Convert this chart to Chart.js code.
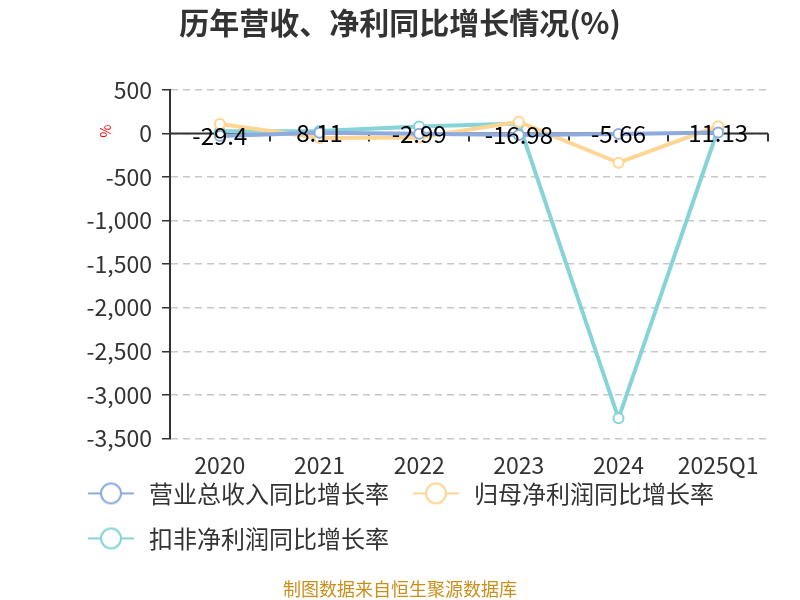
<!DOCTYPE html>
<html>
<head>
<meta charset="utf-8">
<script src="https://cdn.jsdelivr.net/npm/chart.js@4.4.1/dist/chart.umd.min.js"></script>
<style>
  html, body { margin: 0; padding: 0; background: #fff; }
  #wrap { width: 800px; height: 600px; }
</style>
</head>
<body>
<div id="wrap"><canvas id="growth_chart" width="800" height="600"></canvas></div>
<script>
// 数据
const categories = ['2020', '2021', '2022', '2023', '2024', '2025Q1'];
const revenueGrowth = [-29.4, 8.11, -2.99, -16.98, -5.66, 11.13];   // 营业总收入同比增长率
const netProfitGrowth = [110, -50, -45, 135, -335, 85];             // 归母净利润同比增长率
const deductedProfitGrowth = [25, 30, 80, 115, -3270, 55];          // 扣非净利润同比增长率
const seriesNames = ['营业总收入同比增长率', '归母净利润同比增长率', '扣非净利润同比增长率'];
const yTicks = { min: -3500, max: 500, step: 500 };

const colors = ['#8eabe0', '#fed593', '#86d4d8'];
const FONT = "'Noto Sans CJK SC', 'Noto Sans', sans-serif";
const TITLE = '历年营收、净利同比增长情况(%)';
const SOURCE = '制图数据来自恒生聚源数据库';

Chart.defaults.font.family = FONT;
Chart.defaults.color = '#333';

// 图例图标: 线 + 空心圆
function legendIcon(color) {
    const c = document.createElement('canvas');
    c.width = 46;
    c.height = 24;
    const g = c.getContext('2d');
    g.strokeStyle = color;
    g.lineWidth = 2;
    g.beginPath();
    g.moveTo(0, 12);
    g.lineTo(46, 12);
    g.stroke();
    g.beginPath();
    g.arc(23, 12, 10, 0, Math.PI * 2);
    g.fillStyle = '#fff';
    g.fill();
    g.stroke();
    return c;
}

// 零轴 + 刻度, 数值标签, 单位
const extras = {
    id: 'extras',
    afterLayout(chart) {
        // 标题和来源居中于整个画布, 图例上移
        chart.boxes.forEach(b => {
            if (b.options && (b.options.text === TITLE || b.options.text === SOURCE)) {
                b.left = 0;
                b.right = chart.width;
                b.width = chart.width;
            }
        });
        const lg = chart.legend;
        const d = 18;
        lg.top -= d;
        lg.bottom -= d;
    },
    beforeDatasetsDraw(chart) {
        const { ctx, chartArea, scales } = chart;
        const y0 = scales.y.getPixelForValue(0);
        const n = categories.length;
        const w = (chartArea.right - chartArea.left) / n;
        ctx.save();
        ctx.strokeStyle = '#333';
        ctx.lineWidth = 2;
        ctx.beginPath();
        ctx.moveTo(chartArea.left, y0);
        ctx.lineTo(chartArea.right, y0);
        for (let i = 1; i <= n; i++) {
            const x = Math.round(chartArea.left + w * i);
            ctx.moveTo(x, y0);
            ctx.lineTo(x, y0 + 8);
        }
        ctx.stroke();
        ctx.restore();
    },
    afterDatasetsDraw(chart) {
        const { ctx } = chart;
        const meta = chart.getDatasetMeta(0);
        ctx.save();
        ctx.font = '24px ' + FONT;
        ctx.fillStyle = '#000';
        ctx.textAlign = 'center';
        ctx.textBaseline = 'middle';
        meta.data.forEach((pt, i) => {
            ctx.fillText(String(revenueGrowth[i]), pt.x, pt.y);
        });
        // 单位
        ctx.translate(106, 131);
        ctx.rotate(-Math.PI / 2);
        ctx.font = '14px ' + FONT;
        ctx.fillStyle = '#ff0000';
        ctx.fillText('%', 0, 0);
        ctx.restore();
    }
};

const series = [revenueGrowth, netProfitGrowth, deductedProfitGrowth];

const config = {
    type: 'line',
    data: {
        labels: categories,
        datasets: series.map((d, i) => ({
            label: seriesNames[i],
            data: d,
            borderColor: colors[i],
            backgroundColor: '#fff',
            borderWidth: 4,
            pointRadius: 5,
            pointBorderWidth: 2,
            pointBackgroundColor: '#fff',
            pointBorderColor: colors[i],
            tension: 0
        }))
    },
    options: {
        responsive: false,
        animation: false,
        layout: { padding: { left: 64, right: 32, top: 0, bottom: 0 } },
        plugins: {
            title: {
                display: true,
                text: TITLE,
                color: '#333',
                font: { size: 30, weight: 'bold' },
                padding: { top: 5, bottom: 49 }
            },
            subtitle: {
                display: true,
                position: 'bottom',
                text: SOURCE,
                color: '#c98f1c',
                font: { size: 18 },
                padding: { top: 0, bottom: 0 }
            },
            legend: {
                position: 'bottom',
                align: 'start',
                labels: {
                    usePointStyle: true,
                    pointStyleWidth: 52,
                    padding: 21,
                    color: '#333',
                    font: { size: 24 },
                    generateLabels(chart) {
                        return Chart.defaults.plugins.legend.labels.generateLabels(chart).map((item, i) => {
                            item.pointStyle = legendIcon(colors[i]);
                            return item;
                        });
                    }
                }
            },
            tooltip: { enabled: false }
        },
        scales: {
            x: {
                offset: true,
                grid: { display: false, drawTicks: false },
                border: { display: false },
                ticks: { color: '#333', font: { size: 23 }, padding: 13, maxRotation: 0, autoSkip: false },
                afterFit(scale) { scale.height = 40; }
            },
            y: {
                min: yTicks.min,
                max: yTicks.max,
                grid: { color: '#c8c8c8', lineWidth: 1.5, tickColor: '#333', tickLength: 8, tickWidth: 1.5 },
                border: { display: true, color: '#333', width: 2, dash: [7, 5] },
                ticks: { stepSize: yTicks.step, color: '#333', font: { size: 23 }, padding: 10 },
                afterFit(scale) { scale.width = 106; }
            }
        }
    },
    plugins: [extras]
};

// 创建图表
new Chart(document.getElementById('growth_chart').getContext('2d'), config);
</script>
</body>
</html>
